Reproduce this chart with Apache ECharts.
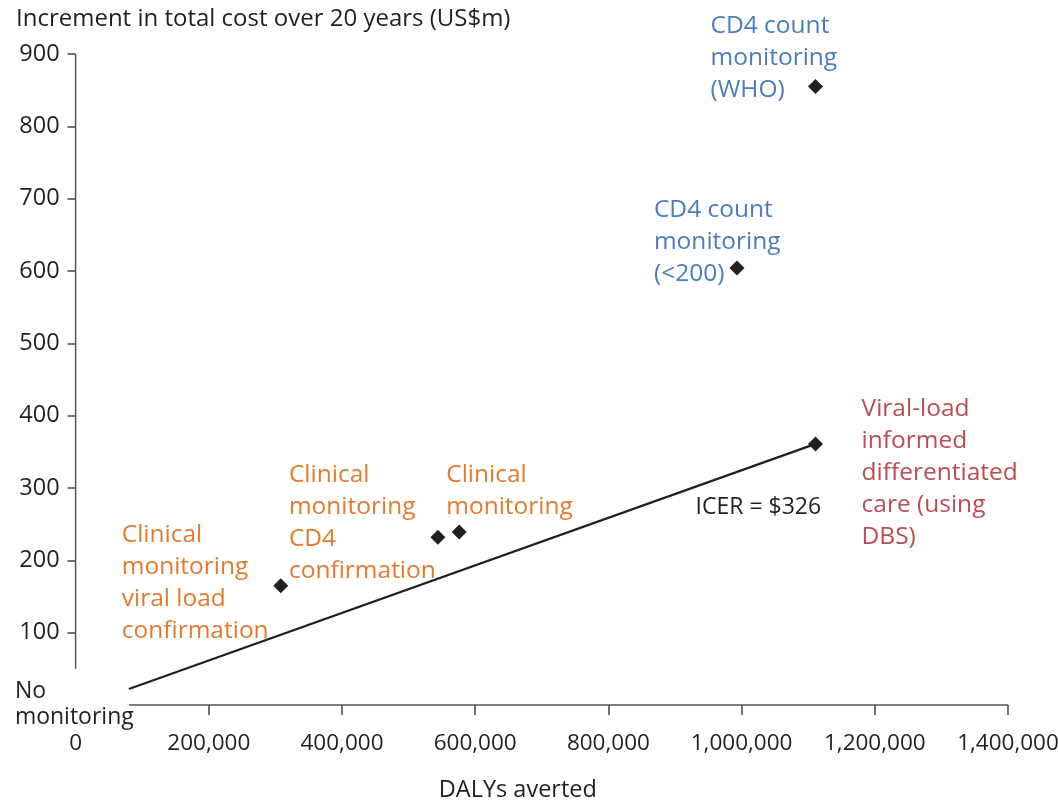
<!DOCTYPE html>
<html><head><meta charset="utf-8">
<script src="https://cdn.jsdelivr.net/npm/echarts@6/dist/echarts.min.js"></script>
<style>html,body{margin:0;padding:0;background:#fff}#c{width:1058px;height:806px}</style>
</head><body><div id="c"></div>
<script>
// ---- data ----
const strategies = [
  'Clinical\nmonitoring\nviral load\nconfirmation',
  'Clinical\nmonitoring\nCD4\nconfirmation',
  'Clinical\nmonitoring',
  'CD4 count\nmonitoring\n(<200)',
  'CD4 count\nmonitoring\n(WHO)',
  'Viral-load\ninformed\ndifferentiated\ncare (using\nDBS)'
];
const dalysAverted = [308000, 544000, 576000, 993000, 1111000, 1111000];
const costIncrement = [165, 232, 239, 604, 855, 361];
const icerLineX = [80000, 1111000];
const icerLineY = [22, 361];
const icerText = 'ICER = $326';
const originText = 'No\nmonitoring';
const xTickValues = [0, 200000, 400000, 600000, 800000, 1000000, 1200000, 1400000];
const yTickValues = [100, 200, 300, 400, 500, 600, 700, 800, 900];
const xAxisSpan = [80000, 1400000];
const yAxisSpan = [50, 900];

// ---- styles ----
const FONT = 'Open Sans';
const ORANGE = '#E47A2E', BLUE = '#4A7DBA', RED = '#BA4C52', INK = '#231F20';
const labelColors = [ORANGE, ORANGE, ORANGE, BLUE, BLUE, RED];
const labelOffsets = [[-159, -67], [-149, -78], [-13, -73], [-83, -74], [-105, -77], [46, -51]];

const chart = echarts.init(document.getElementById('c'), null, {renderer: 'canvas'});
const points = dalysAverted.map((x, i) => ({
  value: [x, costIncrement[i]],
  name: strategies[i],
  label: {
    show: true, position: 'inside', formatter: strategies[i],
    align: 'left', verticalAlign: 'top', offset: labelOffsets[i],
    color: labelColors[i], fontFamily: FONT, fontSize: 24.5, lineHeight: 32
  }
}));

chart.setOption({
  animation: false,
  title: {
    text: 'Increment in total cost over 20 years (US$m)',
    left: 11, top: 2,
    textStyle: {fontFamily: FONT, fontSize: 24, fontWeight: 'normal', color: INK}
  },
  grid: {left: 75.6, right: 50, top: 54, bottom: 101, containLabel: false, outerBoundsMode: 'none'},
  xAxis: {
    type: 'value', min: 0, max: 1400000, interval: 200000,
    name: 'DALYs averted', nameLocation: 'middle', nameGap: 73,
    nameTextStyle: {fontFamily: FONT, fontSize: 23.5, color: INK, padding: [0, 48, 0, 0]},
    axisLine: {show: false},
    axisTick: {show: true, length: 10, customValues: xTickValues.slice(1), lineStyle: {color: '#444', width: 1.5}},
    axisLabel: {customValues: xTickValues, margin: 27, fontFamily: FONT, fontSize: 22.5, color: INK,
      formatter: v => v.toLocaleString('en-US')},
    splitLine: {show: false}
  },
  yAxis: {
    type: 'value', min: 0, max: 900,
    axisLine: {show: false},
    axisTick: {show: true, length: 8, customValues: yTickValues, lineStyle: {color: '#444', width: 1.5}},
    axisLabel: {customValues: yTickValues, margin: 16, fontFamily: FONT, fontSize: 23.5, color: INK},
    splitLine: {show: false}
  },
  series: [
    {
      type: 'line', silent: true, symbol: 'none', clip: false,
      data: [[xAxisSpan[0], 0], [xAxisSpan[1], 0]],
      lineStyle: {color: '#555', width: 1.5}
    },
    {
      type: 'line', silent: true, symbol: 'none', clip: false,
      data: [[0, yAxisSpan[0]], [0, yAxisSpan[1]]],
      lineStyle: {color: '#555', width: 1.5}
    },
    {
      type: 'line', silent: true, symbol: 'none', clip: false, z: 3,
      data: [[icerLineX[0], icerLineY[0]], [icerLineX[1], icerLineY[1]]],
      lineStyle: {color: INK, width: 2.2}
    },
    {
      type: 'scatter', silent: true, symbol: 'circle', symbolSize: 2, z: 5,
      itemStyle: {color: 'rgba(0,0,0,0)', opacity: 1},
      data: [
        {value: [icerLineX[0], icerLineY[0]], label: {show: true, position: 'inside', formatter: originText,
          align: 'left', verticalAlign: 'top', offset: [-114, -11], color: INK, fontFamily: FONT, fontSize: 23, lineHeight: 26}},
        {value: [icerLineX[1], icerLineY[1]], label: {show: true, position: 'inside', formatter: icerText,
          align: 'left', verticalAlign: 'middle', offset: [-120, 64], color: INK, fontFamily: FONT, fontSize: 23}}
      ]
    },
    {
      type: 'scatter', symbol: 'diamond', symbolSize: 15, z: 4,
      itemStyle: {color: INK, opacity: 1},
      data: points
    }
  ]
});
</script></body></html>
